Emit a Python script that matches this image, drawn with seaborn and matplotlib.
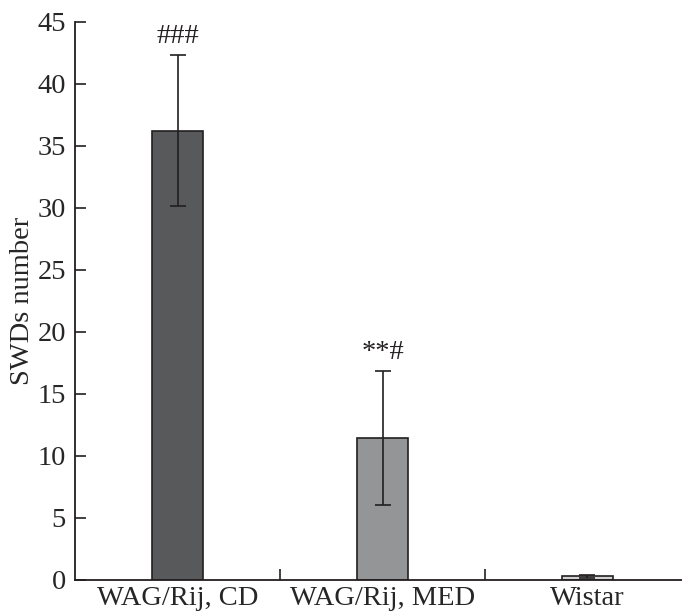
import numpy as np
import pandas as pd
import matplotlib
matplotlib.use("Agg")
import matplotlib.pyplot as plt
import seaborn as sns

# ── Data ──────────────────────────────────────────────────────────────────────
groups = ["WAG/Rij, CD", "WAG/Rij, MED", "Wistar"]
swd_mean = [36.2, 11.4, 0.3]
swd_err = [6.1, 5.4, 0.12]
marks = ["###", "**#", ""]
bar_colors = ["#58595b", "#939598", "#d1d3d4"]

df = pd.DataFrame({"group": groups, "swd": swd_mean})

FS = 20.5

# ── Plot ──────────────────────────────────────────────────────────────────────
sns.set_style("ticks")
plt.rcParams["font.family"] = ["Liberation Serif", "DejaVu Serif"]

fig = plt.figure(figsize=(6.82, 6.15), dpi=100)
ax = fig.add_axes([0.110, 0.057, 0.890, 0.908])

sns.barplot(data=df, x="group", y="swd", hue="group", palette=bar_colors,
            order=groups, hue_order=groups, width=0.25, legend=False,
            edgecolor="#231f20", linewidth=1.2, errorbar=None, ax=ax)

ax.errorbar(np.arange(len(groups)), swd_mean, yerr=swd_err, fmt="none",
            ecolor="#231f20", elinewidth=1.2, capsize=5.5, capthick=1.2)

for i, (m, e, txt) in enumerate(zip(swd_mean, swd_err, marks)):
    if txt:
        ax.text(i, m + e + 1.5, txt, ha="center", va="center", fontsize=FS,
                color="#231f20")

ax.set_xlim(-0.5, 2.461)
ax.set_ylim(0, 45)
ax.set_yticks(range(0, 46, 5))
ax.set_xlabel("")
ax.set_ylabel("SWDs number", fontsize=FS, labelpad=2)

# category separators as inward ticks on the x axis
ax.set_xticks([0.5, 1.5], minor=True)
ax.tick_params(axis="x", which="major", length=0, labelsize=FS, pad=4)
ax.tick_params(axis="x", which="minor", direction="in", length=8, width=1.2,
               color="#231f20")
ax.tick_params(axis="y", direction="in", length=8, width=1.2,
               labelsize=FS, color="#231f20", pad=6.5)

for s in ["top", "right"]:
    ax.spines[s].set_visible(False)
for s in ["left", "bottom"]:
    ax.spines[s].set_linewidth(1.3)
    ax.spines[s].set_color("#231f20")

plt.savefig("out.png", dpi=100)
